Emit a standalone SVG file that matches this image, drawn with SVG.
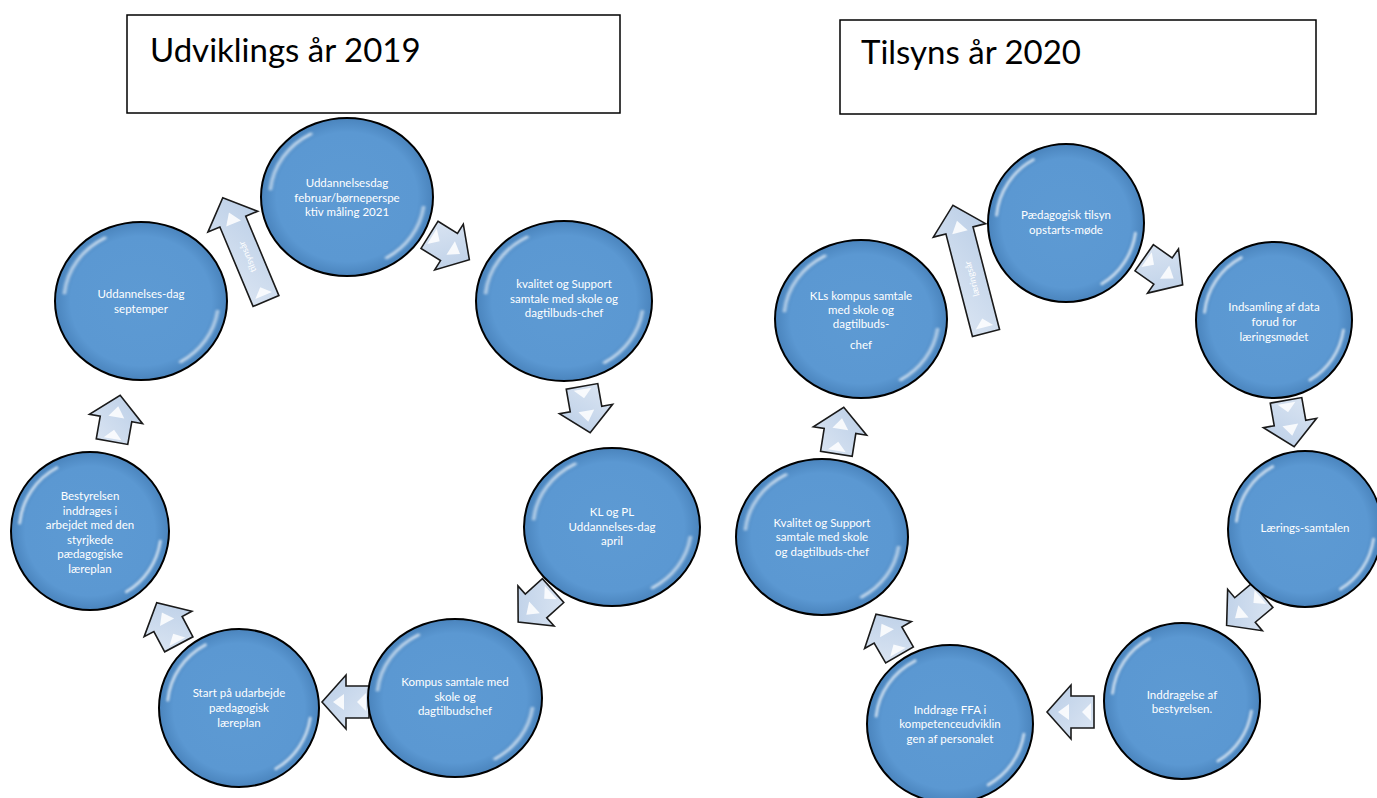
<svg xmlns="http://www.w3.org/2000/svg" xmlns:xlink="http://www.w3.org/1999/xlink" width="1377" height="798" viewBox="0 0 1377 798">
<style>
.box{fill:#fff;stroke:#000;stroke-width:1.5}
.title{font-family:Lato,"Liberation Sans",sans-serif;font-size:33px;fill:#000}
.node{fill:url(#gNode);stroke:#000;stroke-width:2}
.lbl{font-family:Lato,"Liberation Sans",sans-serif;font-size:11.5px;fill:#fff;text-anchor:middle}
.alb{font-family:Lato,"Liberation Sans",sans-serif;font-size:9px;fill:#fff;text-anchor:middle}
.arr{fill:url(#gArr);stroke:#1a1a1a;stroke-width:1.6;stroke-linejoin:miter}
.hl{fill:none;stroke:#fff;stroke-width:3;stroke-linecap:round;opacity:.65}
.tri{fill:#fff;opacity:.85}
</style>
<defs>
<radialGradient id="gNode" cx="50%" cy="50%" r="50%">
<stop offset="0" stop-color="#5d9ad3"/>
<stop offset="0.82" stop-color="#5b98d2"/>
<stop offset="1" stop-color="#4a84bd"/>
</radialGradient>
<linearGradient id="gArr" x1="0" y1="0" x2="1" y2="1">
<stop offset="0" stop-color="#dce6f3"/>
<stop offset="1" stop-color="#b9cde6"/>
</linearGradient>
<filter id="blur" x="-20%" y="-20%" width="140%" height="140%"><feGaussianBlur stdDeviation="0.016"/></filter>
<g id="hl">
<path class="hl" vector-effect="non-scaling-stroke" filter="url(#blur)" d="M-0.89,-0.10 A0.9,0.9 0 0 1 -0.42,-0.80"/>
<path class="hl" vector-effect="non-scaling-stroke" filter="url(#blur)" d="M0.89,0.13 A0.9,0.9 0 0 1 0.46,0.77"/>
</g>
<g id="sa">
<path class="arr" d="M-23,-16 L0,-16 L0,-27 L24,0 L0,27 L0,16 L-23,16 Z"/>
<path class="tri" d="M2,-8 L13,0 L2,8 Z"/>
<path class="tri" d="M-20,-9 L-11,0 L-20,9 Z" opacity=".6"/>
</g>
</defs>

<g id="title-left">
<rect class="box" x="127" y="15" width="493" height="98"/>
<text class="title" x="150" y="62">Udviklings år 2019</text>
</g>
<g id="title-right">
<rect class="box" x="840" y="20" width="476" height="94"/>
<text class="title" x="861" y="64">Tilsyns år 2020</text>
</g>

<g id="connectors">
<!-- left cycle -->
<use href="#sa" transform="translate(449,247) rotate(32)"/>
<use href="#sa" transform="translate(586,409) rotate(80)"/>
<use href="#sa" transform="translate(536,606) rotate(138)"/>
<use href="#sa" transform="translate(346,702) rotate(180)"/>
<use href="#sa" transform="translate(168,624) rotate(-118)"/>
<use href="#sa" transform="translate(116,419) rotate(-80)"/>
<g transform="translate(266,301) rotate(-112.7)">
<path class="arr" d="M0,-14 L86,-14 L86,-27 L112,0 L86,27 L86,14 L0,14 Z"/>
<path class="tri" d="M84,-8 L96,0 L84,8 Z"/>
<path class="tri" d="M6,-9 L15,0 L6,9 Z" opacity=".7"/>
<text class="alb" x="48" y="3">tilsynsår</text>
</g>
<!-- right cycle -->
<use href="#sa" transform="translate(1163,271) rotate(35)"/>
<use href="#sa" transform="translate(1290,423) rotate(80)"/>
<use href="#sa" transform="translate(1245,610) rotate(140)"/>
<use href="#sa" transform="translate(1071,712) rotate(180)"/>
<use href="#sa" transform="translate(888,635) rotate(-120)"/>
<use href="#sa" transform="translate(840,431) rotate(-81)"/>
<g transform="translate(986,333) rotate(-104.5)">
<path class="arr" d="M0,-14 L106,-14 L106,-27 L132,0 L106,27 L106,14 L0,14 Z"/>
<path class="tri" d="M104,-8 L116,0 L104,8 Z"/>
<path class="tri" d="M6,-9 L15,0 L6,9 Z" opacity=".7"/>
<text class="alb" x="56" y="3">læringsår</text>
</g>
</g>

<!-- left cycle nodes -->
<g id="n-feb">
<ellipse class="node" cx="347" cy="197" rx="86" ry="79"/>
<use href="#hl" transform="translate(347,197) scale(86,79)"/>
<text class="lbl" x="347" y="187">Uddannelsesdag</text>
<text class="lbl" x="347" y="202">februar/børneperspe</text>
<text class="lbl" x="347" y="216">ktiv måling 2021</text>
</g>
<g id="n-kvalitet-l">
<ellipse class="node" cx="564" cy="301" rx="88" ry="80"/>
<use href="#hl" transform="translate(564,301) scale(88,80)"/>
<text class="lbl" x="564" y="288">kvalitet og Support</text>
<text class="lbl" x="564" y="303">samtale med skole og</text>
<text class="lbl" x="564" y="317">dagtilbuds-chef</text>
</g>
<g id="n-april">
<ellipse class="node" cx="612" cy="527" rx="88" ry="79"/>
<use href="#hl" transform="translate(612,527) scale(88,79)"/>
<text class="lbl" x="612" y="516">KL og PL</text>
<text class="lbl" x="612" y="531">Uddannelses-dag</text>
<text class="lbl" x="612" y="545">april</text>
</g>
<g id="n-kompus">
<ellipse class="node" cx="455" cy="698" rx="87" ry="79"/>
<use href="#hl" transform="translate(455,698) scale(87,79)"/>
<text class="lbl" x="455" y="686">Kompus samtale med</text>
<text class="lbl" x="455" y="701">skole og</text>
<text class="lbl" x="455" y="715">dagtilbudschef</text>
</g>
<g id="n-start">
<ellipse class="node" cx="239" cy="708" rx="80" ry="79"/>
<use href="#hl" transform="translate(239,708) scale(80,79)"/>
<text class="lbl" x="239" y="697">Start på udarbejde</text>
<text class="lbl" x="239" y="712">pædagogisk</text>
<text class="lbl" x="239" y="727">læreplan</text>
</g>
<g id="n-bestyrelsen">
<ellipse class="node" cx="90" cy="531" rx="79" ry="79"/>
<use href="#hl" transform="translate(90,531) scale(79,79)"/>
<text class="lbl" x="90" y="500">Bestyrelsen</text>
<text class="lbl" x="90" y="514.5">inddrages i</text>
<text class="lbl" x="90" y="529">arbejdet med den</text>
<text class="lbl" x="90" y="543.5">styrjkede</text>
<text class="lbl" x="90" y="558">pædagogiske</text>
<text class="lbl" x="90" y="572.5">læreplan</text>
</g>
<g id="n-sept">
<ellipse class="node" cx="141" cy="301" rx="86" ry="79"/>
<use href="#hl" transform="translate(141,301) scale(86,79)"/>
<text class="lbl" x="141" y="298">Uddannelses-dag</text>
<text class="lbl" x="141" y="313">septemper</text>
</g>

<!-- right cycle nodes -->
<g id="n-tilsyn">
<ellipse class="node" cx="1066" cy="223" rx="78" ry="79"/>
<use href="#hl" transform="translate(1066,223) scale(78,79)"/>
<text class="lbl" x="1066" y="219">Pædagogisk tilsyn</text>
<text class="lbl" x="1066" y="234">opstarts-møde</text>
</g>
<g id="n-indsamling">
<ellipse class="node" cx="1274" cy="320" rx="78" ry="78"/>
<use href="#hl" transform="translate(1274,320) scale(78,78)"/>
<text class="lbl" x="1274" y="311">Indsamling af data</text>
<text class="lbl" x="1274" y="326">forud for</text>
<text class="lbl" x="1274" y="341">læringsmødet</text>
</g>
<g id="n-laerings">
<ellipse class="node" cx="1305" cy="529" rx="77" ry="78"/>
<use href="#hl" transform="translate(1305,529) scale(77,78)"/>
<text class="lbl" x="1305" y="532">Lærings-samtalen</text>
</g>
<g id="n-inddragelse">
<ellipse class="node" cx="1182" cy="701" rx="78" ry="78"/>
<use href="#hl" transform="translate(1182,701) scale(78,78)"/>
<text class="lbl" x="1182" y="699">Inddragelse af</text>
<text class="lbl" x="1182" y="713">bestyrelsen.</text>
</g>
<g id="n-ffa">
<ellipse class="node" cx="950" cy="724" rx="83" ry="79"/>
<use href="#hl" transform="translate(950,724) scale(83,79)"/>
<text class="lbl" x="950" y="714">Inddrage FFA i</text>
<text class="lbl" x="950" y="728">kompetenceudviklin</text>
<text class="lbl" x="950" y="743">gen af personalet</text>
</g>
<g id="n-kvalitet-r">
<ellipse class="node" cx="822" cy="537" rx="86" ry="78"/>
<use href="#hl" transform="translate(822,537) scale(86,78)"/>
<text class="lbl" x="822" y="527">Kvalitet og Support</text>
<text class="lbl" x="822" y="541">samtale med skole</text>
<text class="lbl" x="822" y="556">og dagtilbuds-chef</text>
</g>
<g id="n-kls">
<ellipse class="node" cx="861" cy="319" rx="86" ry="79"/>
<use href="#hl" transform="translate(861,319) scale(86,79)"/>
<text class="lbl" x="861" y="300">KLs kompus samtale</text>
<text class="lbl" x="861" y="314">med skole og</text>
<text class="lbl" x="861" y="328">dagtilbuds-</text>
<text class="lbl" x="861" y="349">chef</text>
</g>
</svg>
